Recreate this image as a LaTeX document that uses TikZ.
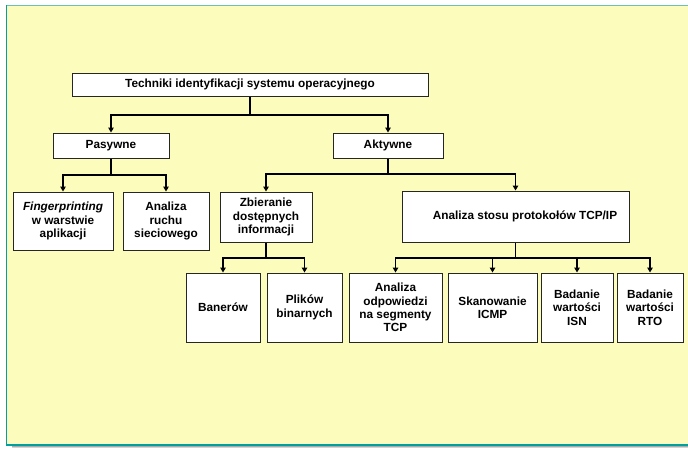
\documentclass[tikz,border=0pt]{standalone}
\usepackage{fontspec}
\setmainfont{Liberation Sans}
\usetikzlibrary{arrows.meta}
\definecolor{panel}{RGB}{252,252,188}
\definecolor{edgeleft}{RGB}{0,160,160}
\definecolor{edgetop}{RGB}{110,192,176}
\definecolor{shade}{RGB}{150,150,150}
\tikzset{
  box/.style={draw=black!85, line width=1pt, fill=white, align=center,
    inner sep=1pt, font=\bfseries\fontsize{11.8}{13.4}\selectfont},
  link/.style={line width=1.8pt, black},
  arr/.style={link, -{Triangle[length=5pt,width=5.5pt]}},
}
\begin{document}
\begin{tikzpicture}[x=1pt,y=-1pt]
\useasboundingbox (0,0) rectangle (688,448);
% background panel with shadow
\fill[shade] (12,445) rectangle (688,448);
\fill[panel] (6,5) rectangle (690,445);
\draw[edgetop, line width=1.5pt] (6,5.5) -- (690,5.5);
\draw[edgeleft, line width=1.5pt] (6.5,5) -- (6.5,445) -- (690,445);

% boxes
\node[box, minimum width=356pt, minimum height=23pt] (top) at (250,84.5) {Techniki identyfikacji systemu operacyjnego};
\node[box, minimum width=116pt, minimum height=25pt] (pas) at (111,145.5) {Pasywne};
\node[box, minimum width=110pt, minimum height=25pt] (akt) at (388,145.5) {Aktywne};
\node[box, minimum width=100pt, minimum height=58pt] (fin) at (63,221) {\textit{Fingerprinting}\\w warstwie\\aplikacji};
\node[box, minimum width=86pt, minimum height=58pt] (ruch) at (166,221) {Analiza\\ruchu\\sieciowego};
\node[box, minimum width=92pt, minimum height=50pt] (zb) at (266,217) {Zbieranie\\dostępnych\\informacji};
\node[box, minimum width=227pt, minimum height=51pt] (stos) at (515.5,216.5) {\hspace*{19pt}Analiza stosu protokołów TCP/IP};
\node[box, minimum width=74pt, minimum height=69pt] (ban) at (223,307.5) {Banerów};
\node[box, minimum width=75pt, minimum height=69pt] (plik) at (304.5,307.5) {Plików\\binarnych};
\node[box, minimum width=93pt, minimum height=69pt] (odp) at (395.5,307.5) {Analiza\\odpowiedzi\\na segmenty\\TCP};
\node[box, minimum width=89pt, minimum height=69pt] (skan) at (492.5,307.5) {Skanowanie\\ICMP};
\node[box, minimum width=72pt, minimum height=69pt] (isn) at (577,307.5) {Badanie\\wartości\\ISN};
\node[box, minimum width=66pt, minimum height=69pt] (rto) at (650,307.5) {Badanie\\wartości\\RTO};

% junctions
\coordinate (j0) at (250,115);
\coordinate (jp) at (111,175);
\coordinate (ja) at (388,174);
\coordinate (jz) at (266,258);
\coordinate (js) at (515.5,258);

% connectors
\draw[link] (top.south) -- (j0);
\draw[arr] (j0) -| (pas.north);
\draw[arr] (j0) -| (akt.north);
\draw[link] (pas.south) -- (jp);
\draw[arr] (jp) -| (fin.north);
\draw[arr] (jp) -| (ruch.north);
\draw[link] (akt.south) -- (ja);
\draw[arr] (ja) -| (zb.north);
\draw[arr] (ja) -| (stos.north);
\draw[link] (zb.south) -- (jz);
\draw[arr] (jz) -| (ban.north);
\draw[arr] (jz) -| (plik.north);
\draw[link] (stos.south) -- (js);
\draw[arr] (js) -| (odp.north);
\draw[arr] (js) -| (skan.north);
\draw[arr] (js) -| (isn.north);
\draw[arr] (js) -| (rto.north);
\end{tikzpicture}
\end{document}
